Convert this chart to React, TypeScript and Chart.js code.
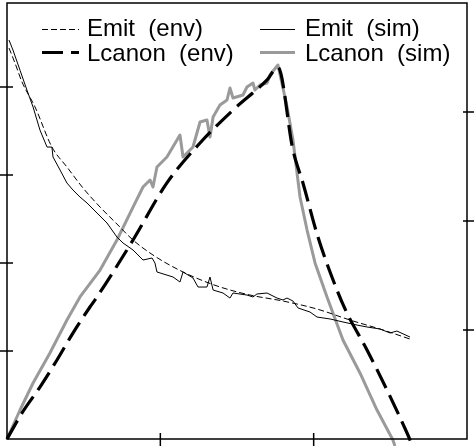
import { useEffect, useRef } from 'react'
import { Chart, registerables, Plugin } from 'chart.js'

Chart.register(...registerables)

// legend labels, laid out as two columns of two rows
const seriesLabels = ['Emit  (env)', 'Emit  (sim)', 'Lcanon  (env)', 'Lcanon  (sim)']

// Emit (env) - left axis
const emitEnvX = [0.013, 0.052, 0.098, 0.183, 0.293, 0.391, 0.496, 0.607, 0.717, 0.822, 0.952, 1.148, 1.37, 1.585, 1.8, 2.022, 2.237, 2.452, 2.628]
const emitEnvY = [4.443, 4.273, 4.057, 3.773, 3.318, 3.091, 2.852, 2.636, 2.443, 2.261, 2.091, 1.898, 1.739, 1.636, 1.568, 1.477, 1.352, 1.239, 1.136]

// Emit (sim) - left axis
const emitSimX = [0.013, 0.039, 0.085, 0.13, 0.17, 0.215, 0.261, 0.293, 0.3, 0.346, 0.391, 0.43, 0.476, 0.522, 0.587, 0.652, 0.717, 0.757, 0.822, 0.887, 0.946, 0.965, 0.978, 1.083, 1.128, 1.148, 1.213, 1.246, 1.304, 1.324, 1.344, 1.409, 1.454, 1.474, 1.565, 1.604, 1.63, 1.696, 1.761, 1.8, 1.826, 1.865, 1.898, 1.976, 2.022, 2.107, 2.191, 2.283, 2.348, 2.433, 2.498, 2.543, 2.628]
const emitSimY = [4.534, 4.42, 4.19, 3.966, 3.773, 3.511, 3.318, 3.318, 3.205, 3.057, 2.909, 2.83, 2.75, 2.682, 2.568, 2.455, 2.295, 2.227, 2.148, 2.034, 2.057, 2.0, 1.898, 1.841, 1.784, 1.898, 1.83, 1.727, 1.727, 1.841, 1.693, 1.659, 1.602, 1.659, 1.636, 1.614, 1.648, 1.659, 1.602, 1.58, 1.602, 1.568, 1.489, 1.443, 1.386, 1.364, 1.33, 1.295, 1.273, 1.25, 1.205, 1.227, 1.159]

// Lcanon (env) - right axis
const lcanonEnvX = [0, 0.098, 0.215, 0.326, 0.43, 0.541, 0.587, 0.822, 1.043, 1.259, 1.474, 1.696, 1.767, 1.865, 1.93, 2.028, 2.152, 2.217, 2.348, 2.478, 2.609, 2.645]
const lcanonEnvY = [0, 0.239, 0.477, 0.725, 0.972, 1.211, 1.303, 1.826, 2.349, 2.716, 3.018, 3.294, 3.41, 2.651, 2.349, 1.853, 1.367, 1.156, 0.817, 0.45, 0.055, -0.065]

// Lcanon (sim) - right axis
const lcanonSimX = [0, 0.085, 0.17, 0.28, 0.391, 0.476, 0.607, 0.717, 0.822, 0.887, 0.933, 0.952, 0.978, 1.043, 1.128, 1.148, 1.213, 1.259, 1.304, 1.324, 1.344, 1.389, 1.435, 1.454, 1.474, 1.539, 1.565, 1.604, 1.617, 1.65, 1.696, 1.715, 1.767, 1.826, 1.865, 1.911, 1.957, 2.009, 2.087, 2.191, 2.302, 2.413, 2.517, 2.53]
const lcanonSimY = [0, 0.266, 0.514, 0.789, 1.092, 1.303, 1.55, 1.826, 2.128, 2.312, 2.376, 2.312, 2.495, 2.587, 2.789, 2.587, 2.679, 2.908, 2.927, 2.771, 2.954, 3.064, 3.11, 3.22, 3.128, 3.156, 3.229, 3.266, 3.202, 3.248, 3.266, 3.339, 3.431, 3.05, 2.743, 2.22, 1.917, 1.615, 1.303, 0.908, 0.606, 0.266, -0.009, -0.064]

const zip = (xs: number[], ys: number[]) => xs.map((x, i) => ({ x, y: ys[i] }))

// box with ticks crossing the axis lines
const framePlugin: Plugin<'line'> = {
  id: 'frame',
  afterDatasetsDraw(chart) {
    const { ctx, chartArea: a, scales } = chart
    const inner = 6
    const outer = 7
    ctx.save()
    ctx.strokeStyle = '#000'
    ctx.lineWidth = 1.5
    ctx.strokeRect(a.left, a.top, a.right - a.left, a.bottom - a.top)
    ctx.beginPath()
    const inside = (s: any, v: number) => v > s.min + 1e-6 && v < s.max - 1e-6
    for (const t of scales.x.ticks) {
      if (!inside(scales.x, t.value)) continue
      const px = scales.x.getPixelForValue(t.value)
      ctx.moveTo(px, a.bottom - inner)
      ctx.lineTo(px, a.bottom + outer)
    }
    for (const t of scales.y.ticks) {
      if (!inside(scales.y, t.value)) continue
      const py = scales.y.getPixelForValue(t.value)
      ctx.moveTo(a.left - outer, py)
      ctx.lineTo(a.left + inner, py)
    }
    for (const t of scales.y2.ticks) {
      if (!inside(scales.y2, t.value)) continue
      const py = scales.y2.getPixelForValue(t.value)
      ctx.moveTo(a.right - inner + 2, py)
      ctx.lineTo(a.right + outer, py)
    }
    ctx.stroke()
    ctx.restore()
  },
}

// 2x2 key in the top of the plot
const keyPlugin: Plugin<'line'> = {
  id: 'key',
  afterDraw(chart) {
    const { ctx } = chart
    const colX = [42, 260]
    const sampleLen = [37, 35]
    const baseY = [36, 61]
    const lineY = [29.5, 52.5]
    ctx.save()
    ctx.font = '24px "Liberation Sans", Arial, sans-serif'
    ctx.textBaseline = 'alphabetic'
    ctx.fillStyle = '#000'
    chart.data.datasets.forEach((ds: any, i) => {
      const row = Math.floor(i / 2)
      const col = i % 2
      const x0 = colX[col]
      ctx.beginPath()
      ctx.strokeStyle = ds.borderColor
      ctx.lineWidth = ds.borderWidth
      ctx.lineCap = 'butt'
      ctx.setLineDash(ds.borderDash || [])
      ctx.moveTo(x0, lineY[row])
      ctx.lineTo(x0 + sampleLen[col], lineY[row])
      ctx.stroke()
      ctx.setLineDash([])
      ctx.fillText(ds.label, x0 + 45, baseY[row])
    })
    ctx.restore()
  },
}

export default function App() {
  const canvasRef = useRef<HTMLCanvasElement | null>(null)
  const chartRef = useRef<Chart | null>(null)

  useEffect(() => {
    const ctx = canvasRef.current?.getContext('2d')
    if (!ctx) return

    chartRef.current?.destroy()
    chartRef.current = new Chart(ctx, {
      type: 'line',
      data: {
        datasets: [
          {
            label: seriesLabels[0],
            data: zip(emitEnvX, emitEnvY),
            yAxisID: 'y',
            borderColor: '#000',
            borderWidth: 1,
            borderDash: [6, 3],
            cubicInterpolationMode: 'monotone',
          },
          {
            label: seriesLabels[1],
            data: zip(emitSimX, emitSimY),
            yAxisID: 'y',
            borderColor: '#000',
            borderWidth: 1,
          },
          {
            label: seriesLabels[2],
            data: zip(lcanonEnvX, lcanonEnvY),
            yAxisID: 'y2',
            borderColor: '#000',
            borderWidth: 3.2,
            borderDash: [21, 8],
            cubicInterpolationMode: 'monotone',
            clip: false as any,
          },
          {
            label: seriesLabels[3],
            data: zip(lcanonSimX, lcanonSimY),
            yAxisID: 'y2',
            borderColor: '#9a9a9a',
            borderWidth: 3,
            clip: false as any,
          },
        ],
      },
      options: {
        animation: false,
        responsive: true,
        maintainAspectRatio: false,
        events: [],
        layout: { padding: { left: 7, right: 7, top: 3, bottom: 7 } },
        elements: { point: { radius: 0 }, line: { tension: 0, borderJoinStyle: 'round' } },
        scales: {
          x: { type: 'linear', display: false, min: 0, max: 3, ticks: { stepSize: 1 } },
          y: { type: 'linear', display: false, min: 0, max: 4.955, ticks: { stepSize: 1 } },
          y2: { type: 'linear', display: false, position: 'right', min: 0, max: 4, ticks: { stepSize: 1 } },
        },
        plugins: {
          legend: { display: false },
          tooltip: { enabled: false },
        },
      },
      plugins: [framePlugin, keyPlugin],
    })

    return () => chartRef.current?.destroy()
  }, [])

  return (
    <div style={{ position: 'absolute', left: 0, top: 0, width: 474, height: 446, background: '#fff' }}>
      <canvas ref={canvasRef} />
    </div>
  )
}
